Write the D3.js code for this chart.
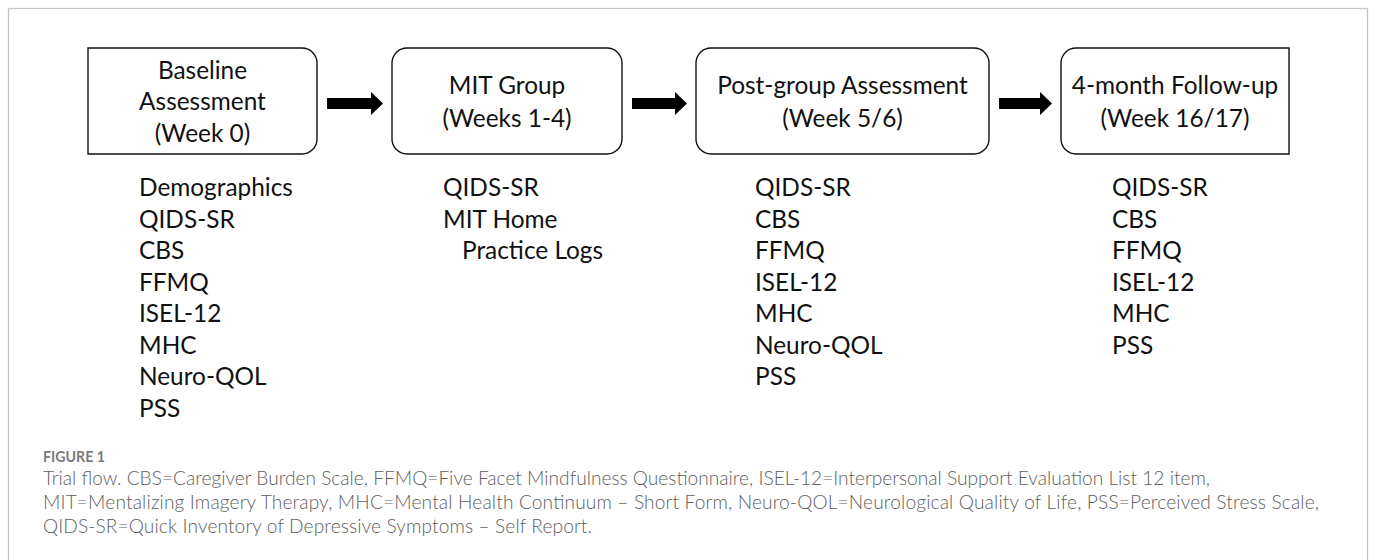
<!DOCTYPE html>
<html>
<head>
<meta charset="utf-8">
<script src="https://cdn.jsdelivr.net/npm/d3@7"></script>
<style>
  html, body { margin: 0; padding: 0; background: #fff; }
  svg { display: block; }
</style>
</head>
<body>
<svg id="chart" width="1375" height="560"></svg>
<script>
// ---------- DATA ----------
const stageTitles = [
  ["Baseline", "Assessment", "(Week 0)"],
  ["MIT Group", "(Weeks 1-4)"],
  ["Post-group Assessment", "(Week 5/6)"],
  ["4-month Follow-up", "(Week 16/17)"]
];
const stageMeasures = [
  ["Demographics", "QIDS-SR", "CBS", "FFMQ", "ISEL-12", "MHC", "Neuro-QOL", "PSS"],
  ["QIDS-SR", "MIT Home", "  Practice Logs"],
  ["QIDS-SR", "CBS", "FFMQ", "ISEL-12", "MHC", "Neuro-QOL", "PSS"],
  ["QIDS-SR", "CBS", "FFMQ", "ISEL-12", "MHC", "PSS"]
];
const figureLabel = "FIGURE 1";
const captionLines = [
  "Trial flow. CBS=Caregiver Burden Scale, FFMQ=Five Facet Mindfulness Questionnaire, ISEL-12=Interpersonal Support Evaluation List 12 item,",
  "MIT=Mentalizing Imagery Therapy, MHC=Mental Health Continuum \u2013 Short Form, Neuro-QOL=Neurological Quality of Life, PSS=Perceived Stress Scale,",
  "QIDS-SR=Quick Inventory of Depressive Symptoms \u2013 Self Report."
];

// ---------- LAYOUT ----------
const svg = d3.select("#chart");
const boxLayout = [
  {x0: 88,   x1: 317,  rl: 0,  rr: 15, listX: 139},
  {x0: 392,  x1: 622,  rl: 15, rr: 15, listX: 443},
  {x0: 696,  x1: 989,  rl: 15, rr: 15, listX: 755},
  {x0: 1061, x1: 1289, rl: 15, rr: 0,  listX: 1112}
];
const boxTop = 48, boxBottom = 154;
const y = d3.scaleLinear().domain([0, 1]).range([boxTop, boxBottom]);
const lineStep = 31.5;
const listY0 = 196; // baseline of first list item
const mainFont = "Lato, 'Noto Sans', sans-serif";
const capWidths = [1167, 1276, 549];

// frame
svg.append("rect")
  .attr("x", 8.5).attr("y", 8.5)
  .attr("width", 1359).attr("height", 570)
  .attr("fill", "none").attr("stroke", "#c4c4c4").attr("stroke-width", 1.2);

function fitSize(str, target, family, weight) {
  const t = svg.append("text").attr("font-family", family)
    .attr("font-weight", weight || 400).attr("font-size", 100).text(str);
  const w = t.node().getComputedTextLength();
  t.remove();
  return 100 * target / w;
}
const fs = fitSize("Demographics", 154, mainFont, 400);

function boxPath(b) {
  const p = d3.path();
  const t = boxTop, bt = boxBottom;
  p.moveTo(b.x0 + b.rl, t);
  p.lineTo(b.x1 - b.rr, t);
  if (b.rr) p.arcTo(b.x1, t, b.x1, t + b.rr, b.rr);
  p.lineTo(b.x1, bt - b.rr);
  if (b.rr) p.arcTo(b.x1, bt, b.x1 - b.rr, bt, b.rr);
  p.lineTo(b.x0 + b.rl, bt);
  if (b.rl) p.arcTo(b.x0, bt, b.x0, bt - b.rl, b.rl);
  p.lineTo(b.x0, t + b.rl);
  if (b.rl) p.arcTo(b.x0, t, b.x0 + b.rl, t, b.rl);
  p.closePath();
  return p.toString();
}

const stages = stageTitles.map((title, i) => ({title, measures: stageMeasures[i], box: boxLayout[i]}));

const g = svg.selectAll("g.stage").data(stages).join("g").attr("class", "stage");

g.append("path")
  .attr("d", d => boxPath(d.box))
  .attr("fill", "#fff").attr("stroke", "#111").attr("stroke-width", 1.4);

// box titles
g.each(function(d) {
  const n = d.title.length;
  const cy = y(0.5);
  const cx = (d.box.x0 + d.box.x1) / 2;
  d3.select(this).selectAll("text.title").data(d.title).join("text")
    .attr("class", "title")
    .attr("x", cx)
    .attr("y", (t, j) => cy + (j - (n - 1) / 2) * (n === 3 ? 31.5 : 33) + fs * 0.38)
    .attr("text-anchor", "middle")
    .attr("font-family", mainFont)
    .attr("font-size", fs)
    .attr("fill", "#111")
    .text(t => t);
});

// lists
g.each(function(d) {
  d3.select(this).selectAll("text.item").data(d.measures).join("text")
    .attr("class", "item")
    .attr("x", t => d.box.listX + (t.startsWith("  ") ? 19 : 0))
    .attr("y", (t, j) => listY0 + j * lineStep)
    .attr("font-family", mainFont)
    .attr("font-size", fs)
    .attr("fill", "#111")
    .text(t => t.trim());
});

// arrows
const arrowY = 103.5;
for (let i = 0; i < boxLayout.length - 1; i++) {
  const a = boxLayout[i].x1 + 10;
  const tip = boxLayout[i + 1].x0 - 9;
  const headStart = tip - 12;
  const p = d3.path();
  p.moveTo(a, arrowY - 5.5);
  p.lineTo(headStart, arrowY - 5.5);
  p.lineTo(headStart, arrowY - 11.5);
  p.lineTo(tip, arrowY);
  p.lineTo(headStart, arrowY + 11.5);
  p.lineTo(headStart, arrowY + 5.5);
  p.lineTo(a, arrowY + 5.5);
  p.closePath();
  svg.append("path").attr("d", p.toString()).attr("fill", "#000");
}

// caption
const capFont = "Lato, 'Open Sans', sans-serif";
const figSize = fitSize(figureLabel, 62, capFont, 700);
svg.append("text")
  .attr("x", 43).attr("y", 462)
  .attr("font-family", capFont).attr("font-weight", 700)
  .attr("font-size", figSize).attr("fill", "#7a7a7a")
  .text(figureLabel);

const capSize = fitSize(captionLines[0], capWidths[0], capFont, 300);
svg.selectAll("text.cap").data(captionLines).join("text")
  .attr("class", "cap")
  .attr("x", 43)
  .attr("y", (d, i) => 485 + i * 24)
  .attr("font-family", capFont)
  .attr("font-weight", 300)
  .attr("font-size", capSize)
  .attr("textLength", (d, i) => capWidths[i])
  .attr("lengthAdjust", "spacing")
  .attr("fill", "#5e5e5e")
  .text(d => d);
</script>
</body>
</html>
